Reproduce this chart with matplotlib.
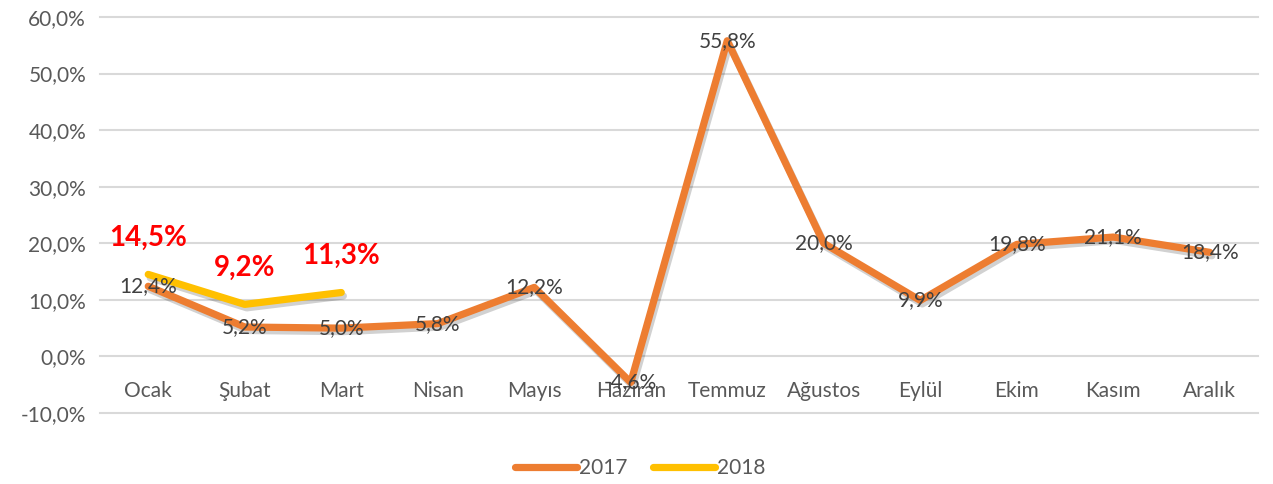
import matplotlib
matplotlib.use("Agg")
import matplotlib.pyplot as plt
import matplotlib.patheffects as pe
from matplotlib.ticker import FuncFormatter

months = ["Ocak", "Şubat", "Mart", "Nisan", "Mayıs", "Haziran", "Temmuz",
          "Ağustos", "Eylül", "Ekim", "Kasım", "Aralık"]
vals_2017 = [12.4, 5.2, 5.0, 5.8, 12.2, -4.6, 55.8, 20.0, 9.9, 19.8, 21.1, 18.4]
vals_2018 = [14.5, 9.2, 11.3]
yticks = [-10, 0, 10, 20, 30, 40, 50, 60]

plt.rcParams['font.family'] = ['Lato', 'DejaVu Sans']

fig = plt.figure(figsize=(12.73, 4.84), dpi=100)
ax = fig.add_axes([100/1273, 1-413/484, 1158/1273, 396/484])

grey = "#595959"
orange = "#ED7D31"
yellow = "#FFC000"
fs = 15

x17 = list(range(len(vals_2017)))
x18 = list(range(len(vals_2018)))
shadow = [pe.SimpleLineShadow(offset=(1.5, -2.5), alpha=0.18, shadow_color="k"), pe.Normal()]
ax.plot(x17, vals_2017, color=orange, lw=5.2, solid_capstyle="round",
        solid_joinstyle="round", label="2017", zorder=3, path_effects=shadow)
ax.plot(x18, vals_2018, color=yellow, lw=5.2, solid_capstyle="round",
        solid_joinstyle="round", label="2018", zorder=4, path_effects=shadow)

fmt = lambda v: f"{v:.1f}".replace(".", ",") + "%"
for xi, v in zip(x17, vals_2017):
    ax.text(xi, v, fmt(v), ha="center", va="center", fontsize=fs,
            color="#404040", zorder=5)

for xi, v in zip(x18, vals_2018):
    ax.text(xi, v + 6.4, fmt(v), ha="center", va="center", fontsize=20,
            fontweight="bold", color="#FF0000", zorder=5)

ax.set_xlim(-0.5, len(months) - 0.5)
ax.set_ylim(-10, 60)
ax.set_yticks(yticks)
ax.yaxis.set_major_formatter(FuncFormatter(lambda v, p: fmt(v)))
ax.set_xticks(x17)
ax.set_xticklabels(months)
ax.spines['bottom'].set_position(('data', 0))
for s in ax.spines.values():
    s.set_visible(False)
ax.tick_params(axis="both", length=0, colors=grey, labelsize=fs)
ax.tick_params(axis="y", pad=10)
ax.tick_params(axis="x", pad=18)
ax.grid(axis="y", color="#D9D9D9", lw=1.5)
for gl in ax.get_ygridlines():
    gl.set_clip_on(False)
ax.set_axisbelow(True)

leg = fig.legend(loc="center", bbox_to_anchor=(0.503, 1-468/484), ncol=2,
                 frameon=False, fontsize=fs, handlelength=3.0,
                 handletextpad=0.1, columnspacing=1.2)
for t in leg.get_texts():
    t.set_color(grey)
for h in leg.get_lines():
    h.set_linewidth(5.2)
    h.set_solid_capstyle("round")
    h.set_path_effects([])

fig.savefig("out.png", dpi=100)
